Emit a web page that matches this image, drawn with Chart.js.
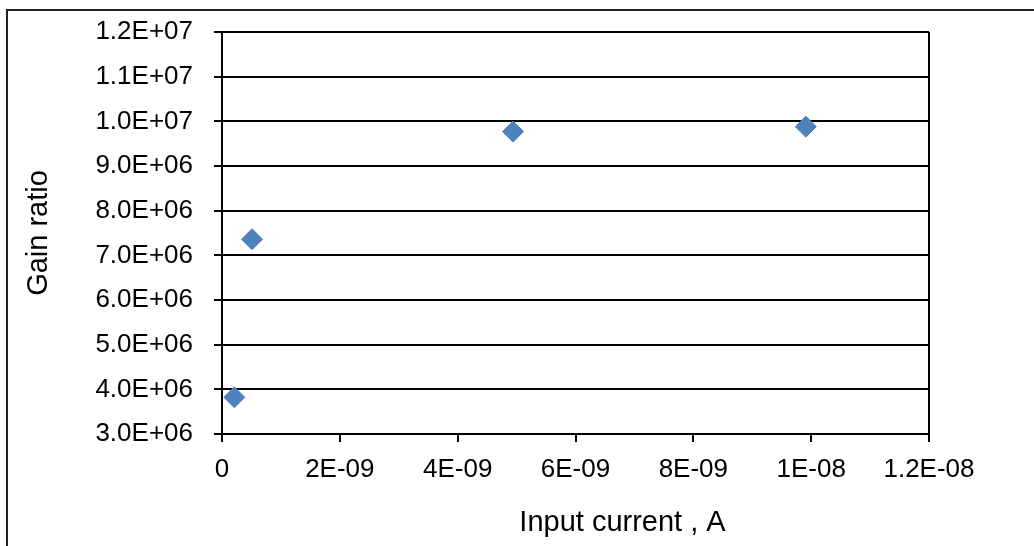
<!DOCTYPE html>
<html>
<head>
<meta charset="utf-8">
<script src="https://cdn.jsdelivr.net/npm/chart.js@4/dist/chart.umd.min.js"></script>
<style>
  html, body { margin: 0; padding: 0; background: #fff; }
  #wrap { position: relative; width: 1034px; height: 546px; overflow: hidden; }
  #frame {
    position: absolute; left: 6px; top: 9px; right: -10px; bottom: -10px;
    border-left: 2px solid #222; border-top: 2px solid #222;
    pointer-events: none;
  }
</style>
</head>
<body>
<div id="wrap">
  <canvas id="gainChart" width="1034" height="546"></canvas>
  <div id="frame"></div>
</div>
<script>
// input current (A) and measured gain ratio
const inputCurrent = [2.1e-10, 5.1e-10, 4.94e-9, 9.91e-9];
const gainRatio = [3.82e6, 7.36e6, 9.77e6, 9.88e6];

const xMin = 0, xMax = 1.2e-8, xStep = 2e-9;
const yMin = 3e6, yMax = 1.2e7, yStep = 1e6;

const xTitle = "Input current , A";
const yTitle = "Gain ratio";

const fontFamily = "'Liberation Sans', Arial, sans-serif";

function sci(v, keepDecimal) {
  if (Math.abs(v) < 1e-20) return "0";
  let [m, e] = v.toExponential(1).split("e");
  if (!keepDecimal && m.endsWith(".0")) m = m.slice(0, -2);
  const sign = e[0] === "-" ? "-" : "+";
  const digits = e.replace(/^[+-]/, "").padStart(2, "0");
  return m + "E" + sign + digits;
}

// x title sits a bit right of the plot centre in the original
const xTitlePlugin = {
  id: "xTitle",
  afterDraw(chart) {
    const { ctx, chartArea } = chart;
    ctx.save();
    ctx.font = "29px " + fontFamily;
    ctx.fillStyle = "#000";
    ctx.textAlign = "center";
    ctx.textBaseline = "middle";
    ctx.fillText(xTitle, (chartArea.left + chartArea.right) / 2 + 47, 523);
    ctx.restore();
  },
};

const ctx = document.getElementById("gainChart").getContext("2d");
new Chart(ctx, {
  type: "scatter",
  data: {
    datasets: [
      {
        label: yTitle,
        data: inputCurrent.map((x, i) => ({ x: x, y: gainRatio[i] })),
        pointStyle: "rectRot",
        pointRadius: 10.5,
        pointBorderWidth: 1,
        backgroundColor: "#4F81BD",
        borderColor: "#4F81BD",
      },
    ],
  },
  options: {
    responsive: false,
    animation: false,
    layout: { padding: { left: 0, top: 32, right: 105, bottom: 0 } },
    plugins: {
      legend: { display: false },
      tooltip: { enabled: false },
    },
    scales: {
      x: {
        type: "linear",
        min: xMin,
        max: xMax,
        afterFit: (s) => { s.height = 112; s.paddingLeft = 0; s.paddingRight = 0; },
        afterBuildTicks: (s) => {
          const t = [];
          for (let i = 0; i <= Math.round((xMax - xMin) / xStep); i++) t.push({ value: xMin + i * xStep });
          s.ticks = t;
        },
        border: { display: true, color: "#000", width: 2 },
        grid: {
          drawOnChartArea: true,
          color: (c) => (c.index === 6 ? "#000" : "rgba(0,0,0,0)"),
          lineWidth: 2,
          drawTicks: true,
          tickLength: 8,
          tickColor: "#000",
          tickWidth: 2,
        },
        ticks: {
          color: "#000",
          font: { family: fontFamily, size: 26 },
          padding: 12,
          maxRotation: 0,
          callback: (v) => sci(v, false),
        },
        title: { display: false },
      },
      y: {
        min: yMin,
        max: yMax,
        afterFit: (s) => { s.width = 222; s.paddingTop = 0; s.paddingBottom = 0; },
        border: { display: true, color: "#000", width: 2 },
        grid: {
          color: "#000",
          lineWidth: 2,
          drawTicks: true,
          tickLength: 8,
          tickColor: "#000",
        },
        ticks: {
          stepSize: yStep,
          color: "#000",
          font: { family: fontFamily, size: 26 },
          padding: 21,
          callback: (v) => sci(v, true),
        },
        title: {
          display: true,
          text: yTitle,
          color: "#000",
          font: { family: fontFamily, size: 29 },
          padding: { top: 22, bottom: 0 },
        },
      },
    },
  },
  plugins: [xTitlePlugin],
});
</script>
</body>
</html>
